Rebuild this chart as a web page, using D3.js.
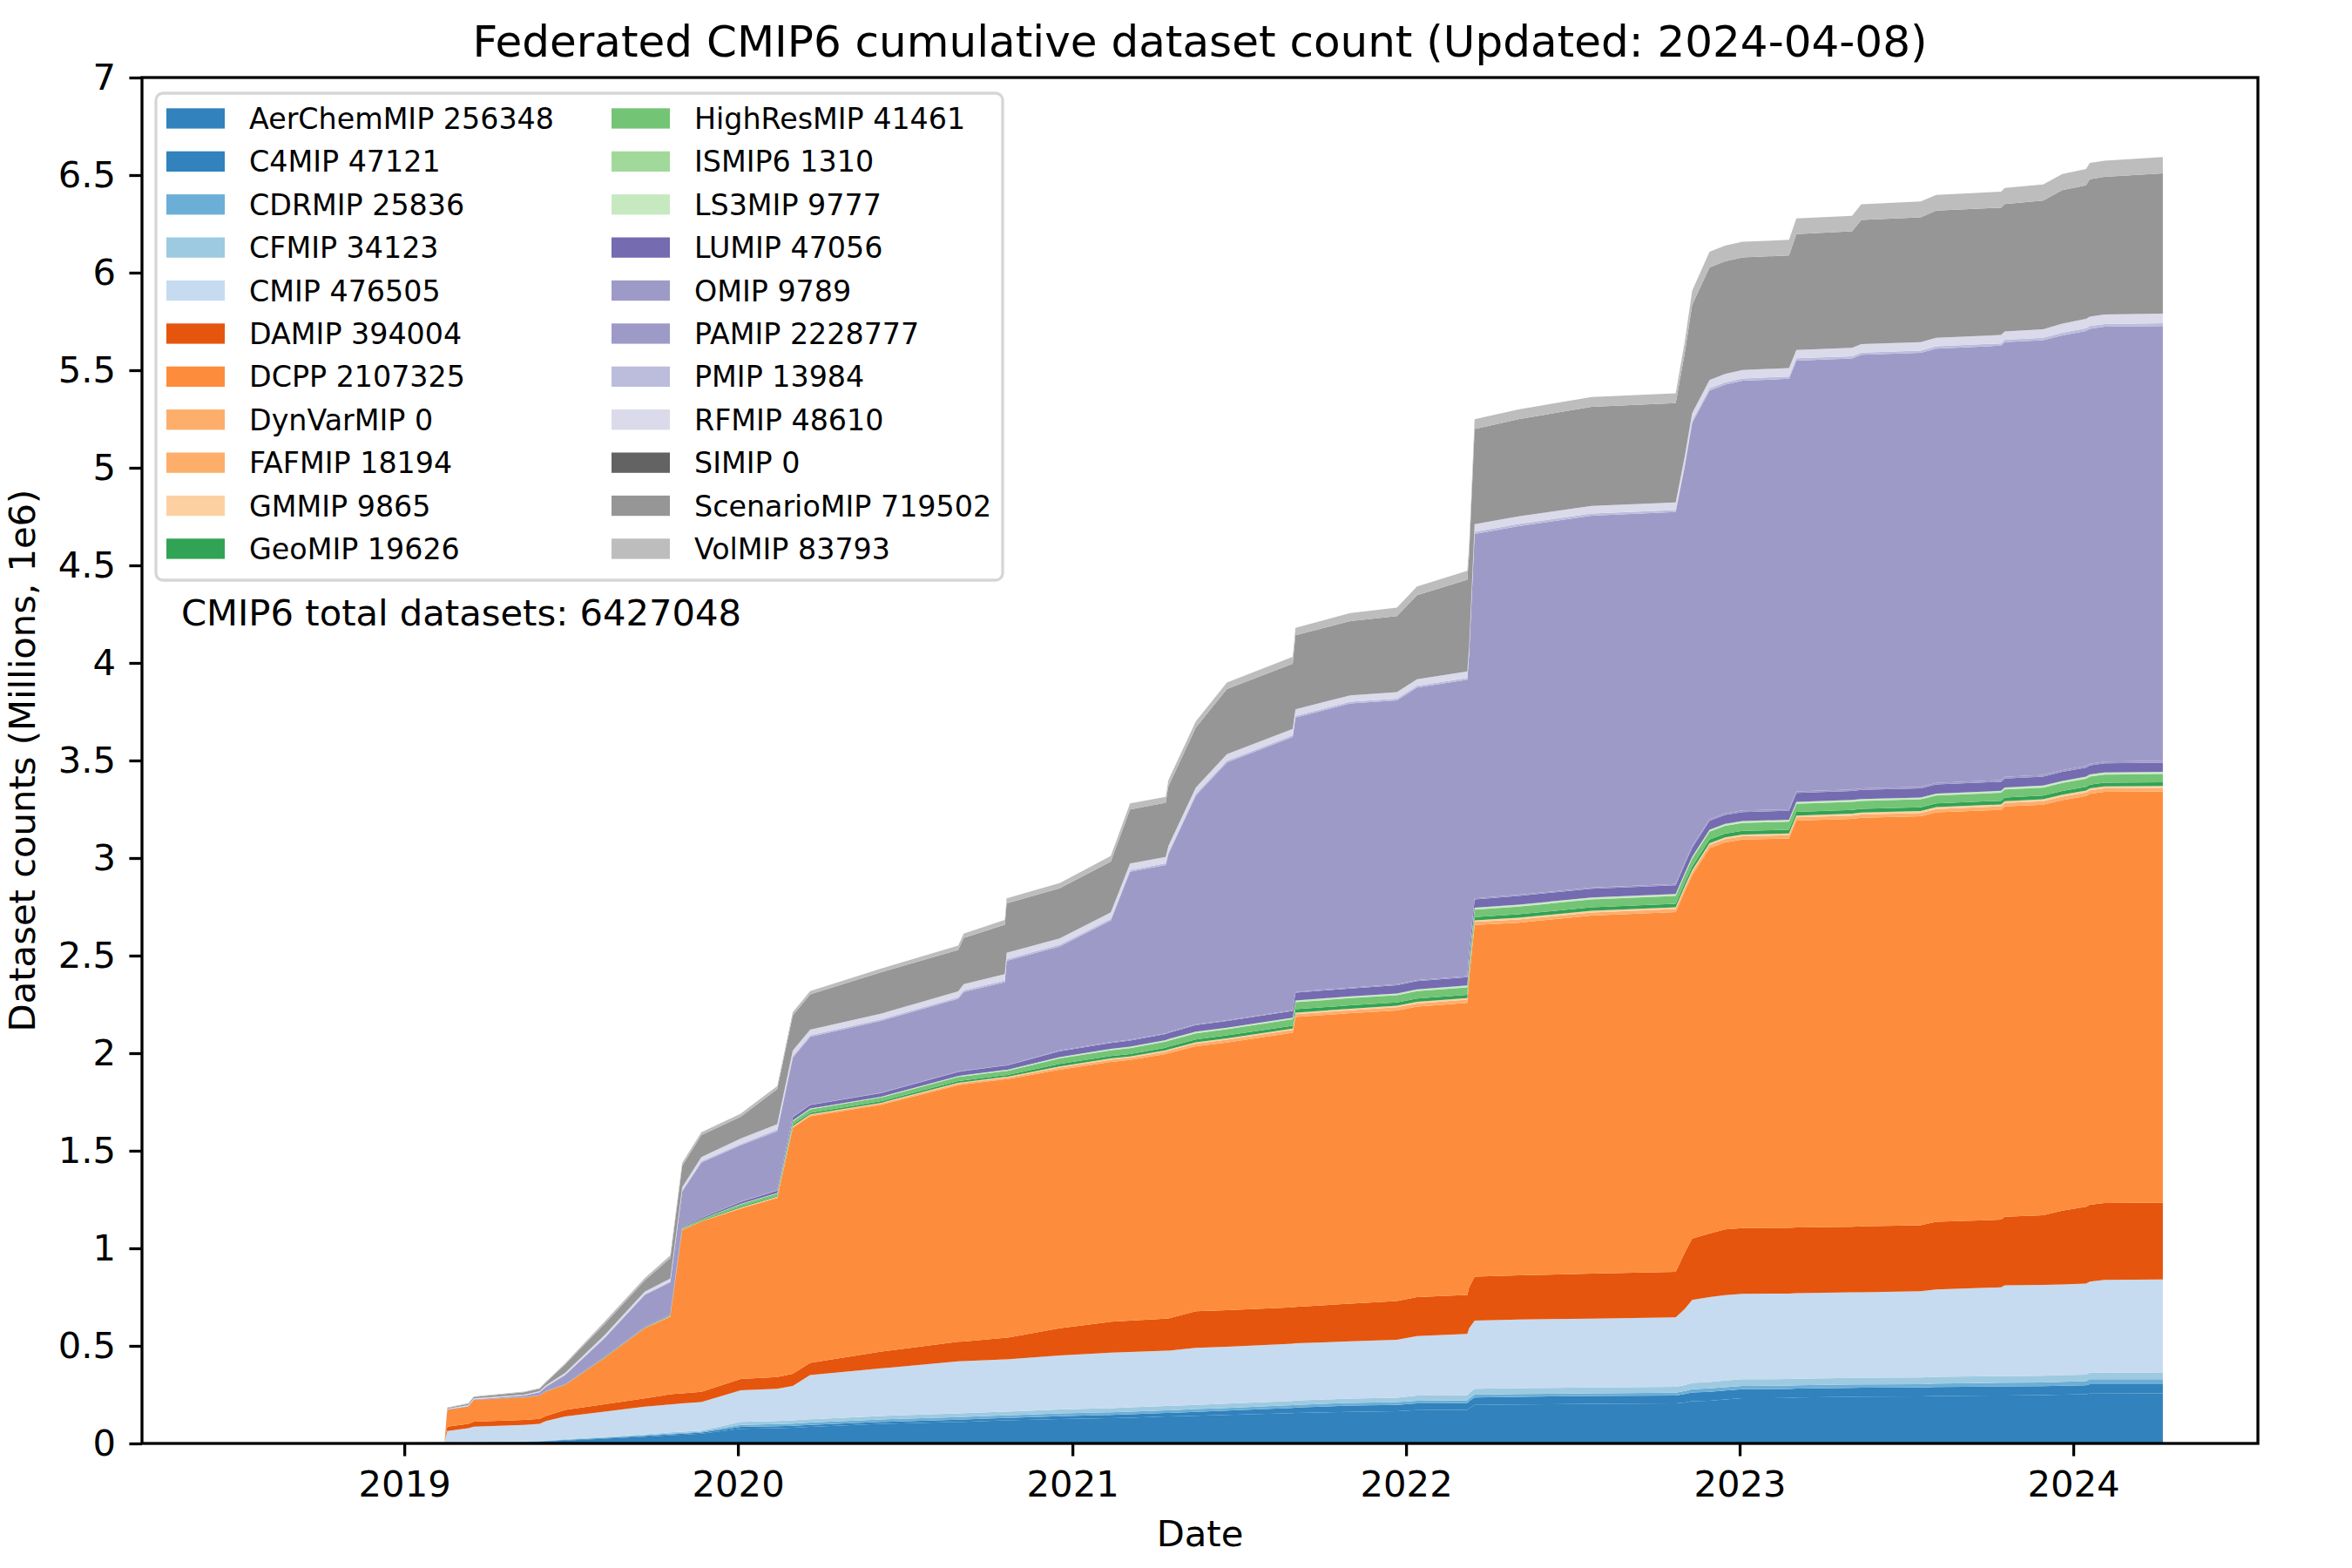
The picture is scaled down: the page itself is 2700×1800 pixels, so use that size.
<!DOCTYPE html>
<html>
<head>
<meta charset="utf-8">
<script src="https://cdn.jsdelivr.net/npm/d3@7"></script>
<style>
body { margin: 0; background: #fff; }
text { font-family: "DejaVu Sans", sans-serif; fill: #000; }
</style>
</head>
<body>
<svg id="chart" width="2700" height="1800"></svg>
<script>
// Snapshot dates (cumulative counts, thousands of datasets)
var dates = [
  "2018-07-20","2018-12-15","2019-02-14","2019-02-17","2019-03-12","2019-03-18","2019-05-12","2019-05-29","2019-06-05","2019-06-26",
  "2019-08-08","2019-09-21","2019-10-19","2019-11-01","2019-11-22","2020-01-04","2020-02-13","2020-03-01","2020-03-20","2020-06-06",
  "2020-08-29","2020-09-04","2020-10-19","2020-10-21","2020-12-18","2021-02-12","2021-03-05","2021-04-13","2021-04-16","2021-05-16",
  "2021-06-19","2021-08-30","2021-09-02","2021-11-01","2021-12-22","2022-01-13","2022-03-09","2022-03-11","2022-03-17","2022-05-04",
  "2022-07-23","2022-10-23","2022-11-02","2022-11-10","2022-11-29","2022-12-16","2023-01-04","2023-02-24","2023-03-04","2023-05-04",
  "2023-05-14","2023-07-18","2023-08-04","2023-10-14","2023-10-18","2023-11-29","2023-12-20","2024-01-15","2024-01-19","2024-02-04",
  "2024-04-08"];

var aerChemMIP = [0,0,1,3,4,4,6,8,10,15, 25,35,42,45,50,75,78,80,85,100, 110,111,118,118,125,130,132,138,138,142,
  146,155,156,162,165,171,172,180,198,200, 203,205,210,216,219,225,232,233,235,239, 240,241,243,246,246,248,250,252,256,256, 256.348];
var c4MIP = [0,0,0,1,1,1,2,2,2,3, 3,4,5,5,6,10,10,10,10,10, 12,12,13,13,15,16,17,18,18,20,
  22,27,28,32,33,34,35,36,38,39, 40,40,43,45,46,46,46,46,46,46, 46,46,46,46,46,46,46,46,47.121,47.121, 47.121];
var cdrMIP = [0,0,0,0,0,1,1,1,1,1, 2,3,4,4,4,10,11,12,12,13, 13,13,13,13,14,14,14,14,14,14,
  14,14,14,14,14,14,14,14,14,14, 14,15,16,17,17,17,17,17,17,17, 17,17,18,19,19,19,20,21,25.836,25.836, 25.836];
var cfMIP = [0,0,0,1,1,1,2,2,3,3, 4,5,6,6,6,15,16,16,17,18, 19,19,19,19,20,21,22,22,22,22,
  22,22,22,22,22,26,26,28,30,30, 30,30,30,32,33,34,34,34,34,34, 34,34,34,34,34,34,34,34,34.123,34.123, 34.123];
var cmip = [0,2,7,59,72,79,84,87,99,116, 129,142,143,145,146,162,165,177,227,244, 267,267,268,268,277,284,284,284,284,292,
  292,293,293,293,297,305,314,332,350,352, 353,356,391,426,435,438,438,438,438,438, 438,442,448,455,465,465,465,466,466,475, 476.505];
var daMIP = [0,0,0,22,22,26,26,26,26,34, 38,42,52,52,52,58,60,62,62,86, 100,100,110,110,139,159,161,164,165,187,
  187,187,187,193,199,200,200,210,225,227, 230,233,289,314,326,337,337,337,337,337, 338,338,347,347,352,358,378,394,394,394, 394.004];
var dcpp = [0,0,0,86,89,111,115,119,125,128, 236,359,398,837,873,873,918,1260,1263,1265, 1315,1318,1325,1325,1325,1331,1335,1355,1359,1359,
  1372,1407,1485,1489,1489,1489,1497,1584,1802,1807, 1835,1844,1851,1862,1974,1983,1991,1995,2085,2090, 2093,2096,2098,2100,2102,2103,2104,2105,2106,2107, 2107.325];
var dynVarMIP = [0,0,0,0,0,0,0,0,0,0, 0,0,0,0,0,0,0,0,0,0, 0,0,0,0,0,0,0,0,0,0,
  0,0,0,0,0,0,0,0,0,0, 0,0,0,0,0,0,0,0,0,0, 0,0,0,0,0,0,0,0,0,0, 0];
var fafMIP = [0,0,0,0,0,0,0,0,0,1, 1,1,2,2,2,4,4,6,7,7, 8,8,8,8,11,12,12,13,13,13,
  14,14,15,15,16,16,16,16,16,16, 16,16,17,17,17,17,17,17,17,17, 17,17,17,18,18,18,18,18,18,18, 18.194];
var gmMIP = [0,0,0,0,0,0,0,0,0,0, 0,1,1,1,1,2,2,3,3,3, 4,4,4,4,6,6,6,6,6,7,
  7,7,8,8,8,8,8,8,8,9, 9,9,9,9,9,9,9,9,9,9.8, 9.8,9.8,9.8,9.8,9.8,9.8,9.8,9.8,9.8,9.8, 9.865];
var geoMIP = [0,0,0,0,0,0,0,0,1,1, 1,1,2,3,3,5,5,8,8,8, 9,9,9,9,13,13,13,14,14,14,
  15,15,17,17,17,17,17,17,17,18, 18,18,18,19,19,19,19,19,19,19, 19,19,19,19,19,19,19,19.6,19.6,19.6, 19.626];
var highResMIP = [0,0,0,0,0,0,1,1,1,1, 2,2,3,5,6,11,12,17,18,19, 21,21,22,22,28,29,30,31,31,32,
  32,33,36,37,37,38,38,38,38,39, 40,40,40,40,40,40,40,41,41,41, 41,41,41,41,41,41,41,41,41,41, 41.461];
var ismip6 = [0,0,0,0,0,0,0,0,0,0, 0,0,0,0,0,0,0,0,0,0, 0,0,0,0,1,1,1,1,1,1,
  1,1,1,1,1,1,1,1,1,1, 1,1,1,1,1,1,1,1,1,1, 1,1,1,1,1,1,1,1,1,1, 1.31];
var ls3MIP = [0,0,0,0,0,0,0,0,0,0, 0,0,0,1,1,3,3,4,4,4, 5,5,5,5,6,6,7,7,7,7,
  7,7,8,8,8,8,9,9,9,9, 9,9,9,9,9,9,9,9,9,9, 9,9,9,9,9,9.7,9.7,9.7,9.7,9.7, 9.777];
var luMIP = [0,0,0,1,1,1,1,1,1,1, 2,3,3,4,5,10,12,17,18,19, 21,22,22,22,30,31,31,31,32,34,
  34,35,40,41,42,42,42,42,42,45, 45,45,46,46,46,46,46,46,46,46, 46,46,46,46,46,46,46,46,46,47, 47.056];
var oMIP = [0,0,0,0,0,0,0,0,0,0, 0,0,0,0,0,2,2,2,2,2, 2,2,2,2,4,4,4,4,4,4,
  4,4,4,4,6,6,6,6,6,6, 6,6,8,8,8,8,8,8,8,8, 8,8,8,9,9,9,9,9,9,9, 9.789];
var paMIP = [0,0,0,1,1,2,7,15,21,47, 96,163,165,181,285,288,303,303,348,368, 373,403,426,535,533,623,861,862,912,1172,
  1321,1399,1406,1456,1454,1499,1519,1523,1867,1889, 1906,1906,2032,2169,2196,2197,2202,2206,2207,2208, 2222,2224,2226,2226,2227,2228,2228,2229,2229,2229, 2228.777];
var pMIP = [0,0,0,1,1,1,1,1,2,2, 3,4,4,5,6,7,8,8,8,8, 8,9,9,9,9,9,9,9,9,9,
  9,9,9,9,9,9,9,9,11,11, 11,11,11,11,12,12,12,12,12,12, 12,12,12,12,12,12,13,13.9,13.9,13.9, 13.984];
var rfMIP = [0,0,0,3,4,4,4,5,6,9, 13,13,15,16,22,27,27,28,29,29, 30,31,32,32,32,33,33,33,33,33,
  33,33,33,33,33,33,33,33,39,39, 39,39,39,39,43,43,43,43,43,43, 43,43,43,43,43,43,47,48.1,48.1,48.1, 48.61];
var siMIP = [0,0,0,0,0,0,0,0,0,0, 0,0,0,0,0,0,0,0,0,0, 0,0,0,0,0,0,0,0,0,0,
  0,0,0,0,0,0,0,0,0,0, 0,0,0,0,0,0,0,0,0,0, 0,0,0,0,0,0,0,0,0,0, 0];
var scenarioMIP = [0,0,0,4,7,7,12,12,14,43, 57,57,105,110,112,112,180,180,180,212, 212,236,254,254,257,260,277,277,306,306,
  334,334,380,380,390,431,470,470,488,498, 508,508,530,555,577,577,577,577,594,597, 636,640,652,652,653,660,685,685,705,706, 719.502];
var volMIP = [0,0,0,2,3,3,4,4,5,6, 12,12,14,15,15,16,16,17,17,19, 22,23,24,25,27,29,31,31,32,33,
  34,35,38,42,43,45,46,48,50,50, 50,51,60,72,80,80,80,80,80,80, 81,81,81,82,82,82,82,83,83,83, 83.793];

var projects = ["AerChemMIP","C4MIP","CDRMIP","CFMIP","CMIP","DAMIP","DCPP","DynVarMIP","FAFMIP","GMMIP","GeoMIP",
  "HighResMIP","ISMIP6","LS3MIP","LUMIP","OMIP","PAMIP","PMIP","RFMIP","SIMIP","ScenarioMIP","VolMIP"];
var series = [aerChemMIP, c4MIP, cdrMIP, cfMIP, cmip, daMIP, dcpp, dynVarMIP, fafMIP, gmMIP, geoMIP,
  highResMIP, ismip6, ls3MIP, luMIP, oMIP, paMIP, pMIP, rfMIP, siMIP, scenarioMIP, volMIP];
var colors = ["#3182bd","#3182bd","#6baed6","#9ecae1","#c6dbef","#e6550d","#fd8d3c","#fdae6b","#fdae6b","#fdd0a2","#31a354",
  "#74c476","#a1d99b","#c7e9c0","#756bb1","#9e9ac8","#9e9ac8","#bcbddc","#dadaeb","#636363","#969696","#bdbdbd"];

var yTicks = [0, 0.5, 1, 1.5, 2, 2.5, 3, 3.5, 4, 4.5, 5, 5.5, 6, 6.5, 7];
var xTickYears = ["2019-01-01","2020-01-01","2021-01-01","2022-01-01","2023-01-01","2024-01-01"];
var totalDatasets = 6427048;
var updated = "2024-04-08";

// plot box in pixels (window.top is reserved, so no bare "top")
var plotLeft = 163, plotRight = 2592, plotTop = 89, plotBottom = 1657;
var lw = 3.3;           // 0.8pt at 300 dpi
var tickFont = 41.7;    // 10pt
var legendFont = 33.3;  // 8pt

var parse = d3.timeParse("%Y-%m-%d");
var svg = d3.select("#chart");

var x = d3.scaleTime()
    .domain([parse("2018-03-20"), parse("2024-07-21")])
    .range([plotLeft, plotRight]);
var y = d3.scaleLinear().domain([0, 7]).range([plotBottom, plotTop]);

// one row per snapshot, values in millions
var rows = dates.map(function(d, i) {
    var row = {date: parse(d)};
    projects.forEach(function(p, j) { row[p] = series[j][i] / 1000; });
    return row;
});

var layers = d3.stack().keys(projects)(rows);

var area = d3.area()
    .x(function(d) { return x(d.data.date); })
    .y0(function(d) { return y(d[0]); })
    .y1(function(d) { return y(d[1]); });

svg.append("g").selectAll("path")
    .data(layers)
    .enter()
    .append("path")
    .attr("d", area)
    .attr("fill", function(d, i) { return colors[i]; });

// axes
var xAxis = d3.axisBottom(x)
    .tickValues(xTickYears.map(parse))
    .tickFormat(d3.timeFormat("%Y"))
    .tickSize(14.6)
    .tickPadding(17);

var gx = svg.append("g")
    .attr("transform", "translate(0," + plotBottom + ")")
    .call(xAxis);

var yAxis = d3.axisLeft(y)
    .tickValues(yTicks)
    .tickFormat(d3.format("~g"))
    .tickSize(14.6)
    .tickPadding(15.4);

var gy = svg.append("g")
    .attr("transform", "translate(" + plotLeft + ",0)")
    .call(yAxis);

[gx, gy].forEach(function(g) {
    g.select(".domain").remove();
    g.selectAll(".tick line").attr("stroke", "#000").attr("stroke-width", lw);
    g.selectAll(".tick text")
        .attr("fill", "#000")
        .style("font-family", "'DejaVu Sans', sans-serif")
        .style("font-size", tickFont + "px");
});

// spines
svg.append("rect")
    .attr("x", plotLeft).attr("y", plotTop)
    .attr("width", plotRight - plotLeft).attr("height", plotBottom - plotTop)
    .attr("fill", "none")
    .attr("stroke", "#000")
    .attr("stroke-width", lw);

// titles and labels
svg.append("text")
    .attr("x", (plotLeft + plotRight) / 2).attr("y", 65)
    .attr("text-anchor", "middle")
    .style("font-size", "50px")
    .text("Federated CMIP6 cumulative dataset count (Updated: " + updated + ")");

svg.append("text")
    .attr("x", (plotLeft + plotRight) / 2).attr("y", 1775)
    .attr("text-anchor", "middle")
    .style("font-size", tickFont + "px")
    .text("Date");

svg.append("text")
    .attr("transform", "translate(40," + (plotTop + plotBottom) / 2 + ") rotate(-90)")
    .attr("text-anchor", "middle")
    .style("font-size", tickFont + "px")
    .text("Dataset counts (Millions, 1e6)");

svg.append("text")
    .attr("x", 208).attr("y", 718)
    .style("font-size", tickFont + "px")
    .text("CMIP6 total datasets: " + totalDatasets);

// legend, two columns filled top to bottom
var legend = svg.append("g");

legend.append("rect")
    .attr("x", 179).attr("y", 107)
    .attr("width", 972).attr("height", 559)
    .attr("rx", 8).attr("ry", 8)
    .attr("fill", "#fff").attr("fill-opacity", 0.8)
    .attr("stroke", "#cccccc").attr("stroke-opacity", 0.8)
    .attr("stroke-width", lw);

var perCol = 11;
var items = legend.selectAll("g.item")
    .data(projects)
    .enter()
    .append("g")
    .attr("class", "item")
    .attr("transform", function(d, i) {
        var col = Math.floor(i / perCol), row = i % perCol;
        return "translate(" + (191 + col * 511) + "," + (136 + row * 49.4) + ")";
    });

items.append("rect")
    .attr("x", 0).attr("y", -11.7)
    .attr("width", 67).attr("height", 23.3)
    .attr("fill", function(d, i) { return colors[i]; });

items.append("text")
    .attr("x", 95).attr("y", 12)
    .style("font-size", legendFont + "px")
    .text(function(d, i) {
        var last = series[i][series[i].length - 1];
        return d + " " + Math.round(last * 1000);
    });
</script>
</body>
</html>
